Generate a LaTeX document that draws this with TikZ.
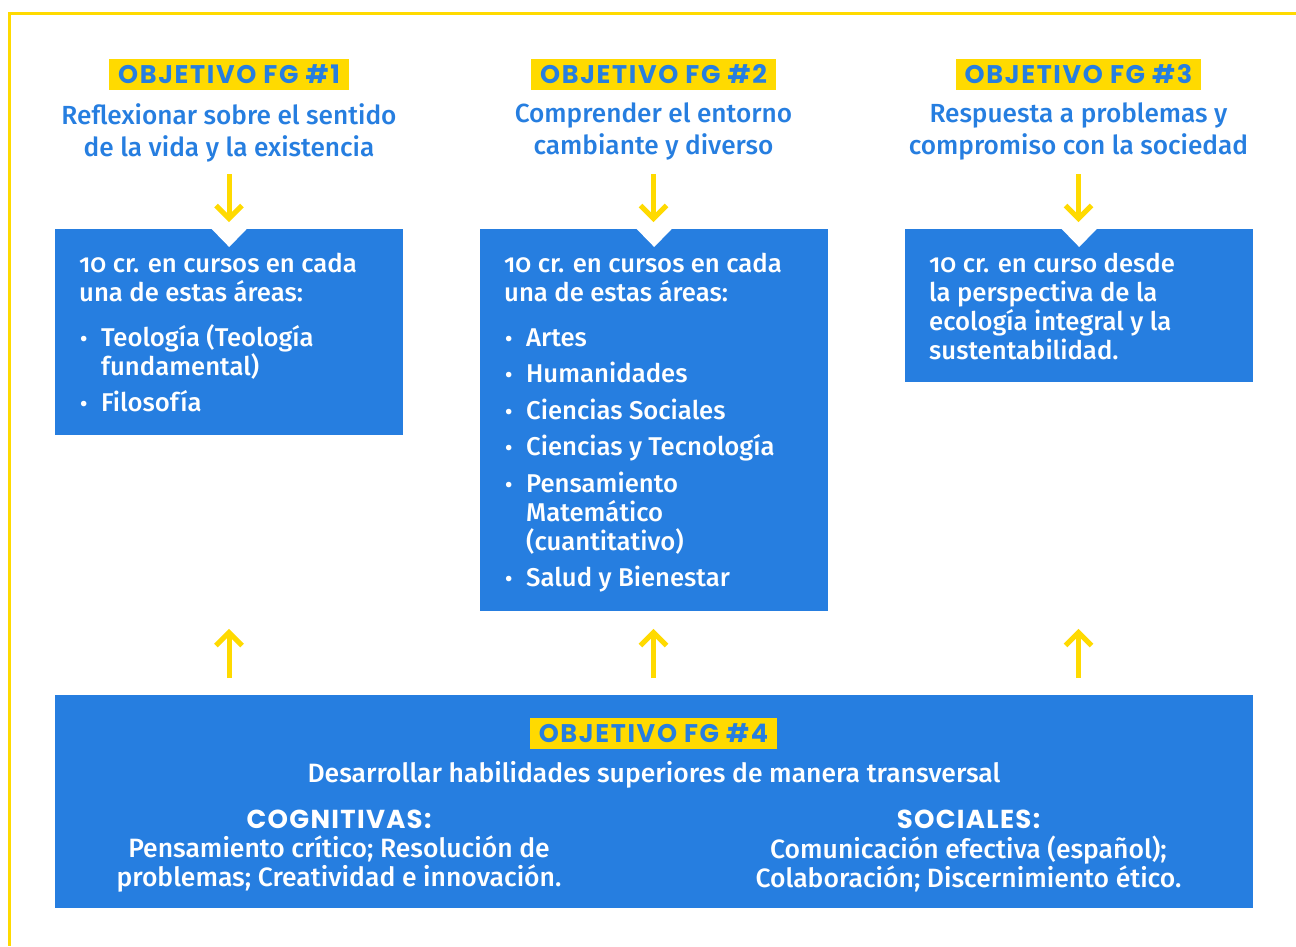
\documentclass[tikz,border=0pt]{standalone}
\usepackage{fontspec}
\setmainfont{Fira Sans}[Numbers=OldStyle, UprightFont=* Medium, BoldFont=* SemiBold]
\newfontfamily\objfont{Poppins}[UprightFont=* Bold, LetterSpace=5]
\newfontfamily\objlabelfont{Poppins}[UprightFont=* Bold, LetterSpace=6.5]
\usetikzlibrary{calc}
\definecolor{fgblue}{HTML}{267EE0}
\definecolor{fgyellow}{HTML}{FFDA00}
\newcommand{\bul}{\makebox[22pt][l]{\hspace{1pt}\scalebox{0.85}{•}}}
\newcommand{\ind}{\hspace*{22pt}}
\begin{document}
\begin{tikzpicture}[x=1pt,y=-1pt,
  bluebox/.style={fill=fgblue, draw=none, inner sep=0pt, anchor=north west},
  objlabel/.style={fill=fgyellow, text=fgblue, font=\objlabelfont\fontsize{25.5}{29}\selectfont,
    inner xsep=9pt, inner ysep=6.5pt, text height=18pt, text depth=0pt, anchor=base},
  heading/.style={text=fgblue, font=\fontsize{26.2}{32}\selectfont, align=center, inner sep=0pt, anchor=north},
  boxtext/.style={text=white, font=\fontsize{25.7}{29}\selectfont, align=left, inner sep=0pt, anchor=north west},
  whitetext/.style={text=white, font=\fontsize{26.5}{29}\selectfont, align=center, inner sep=0pt},
  skilltitle/.style={text=white, font=\objfont\fontsize{26}{29}\selectfont, inner sep=0pt, anchor=base},
  yshaft/.style={draw=fgyellow, line width=5pt},
  ychev/.style={draw=fgyellow, line width=5pt, miter limit=10},
  notch/.style={fill=white, draw=none}
]
\useasboundingbox (0,0) rectangle (1296,946);
% frame
\draw[fgyellow, line width=3pt] (1296,13.5) -- (9.5,13.5) -- (9.5,946);

% blue boxes
\node[bluebox, minimum width=348pt, minimum height=206pt] (b1) at (55,229) {};
\node[bluebox, minimum width=348pt, minimum height=382pt] (b2) at (480,229) {};
\node[bluebox, minimum width=348pt, minimum height=153pt] (b3) at (905,229) {};
\node[bluebox, minimum width=1198pt, minimum height=213pt] (b4) at (55,695) {};

% notches
\foreach \b in {b1,b2,b3}{
  \fill[notch] ($(\b.north)+(-18.5,-1)$) -- ($(\b.north)+(18.5,-1)$) -- ($(\b.north)+(0,18)$) -- cycle;
}

% objective labels
\node[objlabel] (o1) at (229,83.5) {OBJETIVO FG \#1};
\node[objlabel] (o2) at (653.5,83.5) {OBJETIVO FG \#2};
\node[objlabel] (o3) at (1078.5,83.5) {OBJETIVO FG \#3};
\node[objlabel] (o4) at (653.5,742) {OBJETIVO FG \#4};

% headings
\node[heading] (h1) at (229,103) {Reflexionar sobre el sentido\\de la vida y la existencia};
\node[heading] (h2) at (653.5,103) {Comprender el entorno\\cambiante y diverso};
\node[heading] (h3) at (1078.5,103) {Respuesta a problemas y\\compromiso con la sociedad};

% box texts
\node[boxtext] (t1) at (79,253.2) {10 cr. en cursos en cada\\una de estas áreas:\\[15.5pt]
\bul Teología (Teología\\ \ind fundamental)\\[7.5pt]
\bul Filosofía};
\node[boxtext] (t2) at (504,253.2) {10 cr. en cursos en cada\\una de estas áreas:\\[15.5pt]
\bul Artes\\[7.5pt]
\bul Humanidades\\[7.5pt]
\bul Ciencias Sociales\\[7.5pt]
\bul Ciencias y Tecnología\\[7.5pt]
\bul Pensamiento\\ \ind Matemático\\ \ind (cuantitativo)\\[7.5pt]
\bul Salud y Bienestar};
\node[boxtext] (t3) at (929,253.2) {10 cr. en curso desde\\la perspectiva de la\\ecología integral y la\\sustentabilidad.};

% bottom box texts
\node[whitetext, anchor=base] (d4) at (654,782) {Desarrollar habilidades superiores de manera transversal};
\node[skilltitle] (cg) at (339,828) {COGNITIVAS:};
\node[whitetext, anchor=north] (cgt) at (339,835.7) {Pensamiento crítico; Resolución de\\problemas; Creatividad e innovación.};
\node[skilltitle] (so) at (968.5,828) {SOCIALES:};
\node[whitetext, anchor=north] (sot) at (968.5,835.7) {Comunicación efectiva (español);\\Colaboración; Discernimiento ético.};

% arrows down (heading -> box) and up (bottom box -> boxes)
\foreach \x/\n in {229/1,653.5/2,1078.5/3}{
  \coordinate (ds\n) at (\x,174);
  \coordinate (de\n) at (\x,218.5);
  \draw[yshaft] (ds\n) -- (de\n);
  \draw[ychev] ($(de\n)+(-13,-13)$) -- (de\n) -- ($(de\n)+(13,-13)$);
  \coordinate (us\n) at (\x,678);
  \coordinate (ue\n) at (\x,632.5);
  \draw[yshaft] (us\n) -- (ue\n);
  \draw[ychev] ($(ue\n)+(-13,13)$) -- (ue\n) -- ($(ue\n)+(13,13)$);
}
\end{tikzpicture}
\end{document}
